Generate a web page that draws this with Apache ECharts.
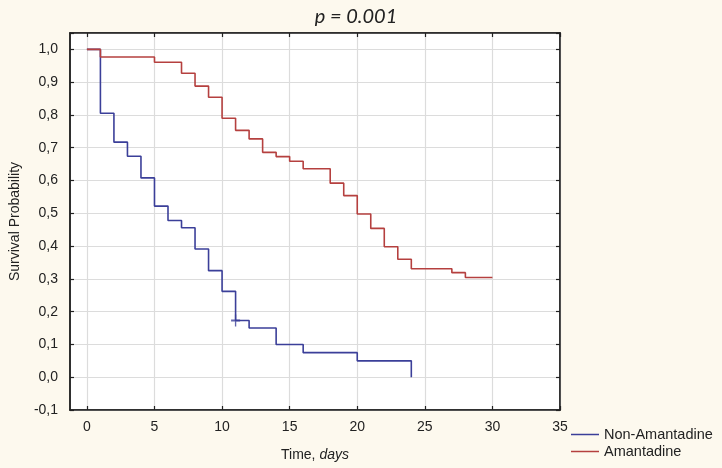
<!DOCTYPE html>
<html><head><meta charset="utf-8">
<script src="https://cdn.jsdelivr.net/npm/echarts@6/dist/echarts.min.js"></script>
<style>html,body{margin:0;padding:0;background:#fdf9ee;}#c{width:722px;height:468px;}</style>
</head><body><div id="c"></div>
<script>
var titleText = 'p = 0.001';
var seriesNames = ['Non-Amantadine', 'Amantadine'];
var xTicks = [0, 5, 10, 15, 20, 25, 30, 35];
var yTicks = [-0.1, 0, 0.1, 0.2, 0.3, 0.4, 0.5, 0.6, 0.7, 0.8, 0.9, 1.0];
var nonAmantadine = [[0,1],[1,0.805],[2,0.717],[3,0.674],[4,0.608],[5,0.522],[6,0.478],[7,0.456],[8,0.391],[9,0.325],[10,0.262],[11,0.173],[12,0.150],[14,0.100],[16,0.075],[20,0.050],[24,0.0]];
var amantadine = [[0,1],[1,0.977],[5,0.961],[7,0.927],[8,0.888],[9,0.854],[10,0.790],[11,0.753],[12,0.727],[13,0.686],[14,0.673],[15,0.659],[16,0.636],[18,0.592],[19,0.554],[20,0.498],[21,0.454],[22,0.398],[23,0.360],[24,0.331],[27,0.319],[28,0.304],[30,0.304]];
var censored = [[11,0.173]];

var chart = echarts.init(document.getElementById('c'));
var fmtY = function(v){ if (Math.abs(v-1.05)<1e-6) return ''; return v.toFixed(1).replace('.', ','); };
var tickStyle = {show:true, inside:true, length:4, lineStyle:{color:'#222', width:1.2}};
var axLine = {show:true, onZero:false, lineStyle:{color:'#222', width:1.5}};
var font = 'Liberation Sans, Arial, sans-serif';
chart.setOption({
  backgroundColor:'#fdf9ee',
  animation:false,
  title:{text:titleText, left:351, textAlign:'center', top:2, textStyle:{fontFamily:'Lato, Open Sans, sans-serif', fontStyle:'italic', fontWeight:'normal', fontSize:20, color:'#222'}},
  legend:{data:seriesNames, orient:'vertical', left:571, top:427, padding:0, icon:'rect', itemWidth:28, itemHeight:1.5, itemGap:2, textStyle:{fontFamily:font, fontSize:14.5, color:'#222', lineHeight:15}},
  grid:{left:67, right:162, top:33, bottom:58, show:true, backgroundColor:'#fff', borderColor:'#222', borderWidth:1.5},
  xAxis:[{
    type:'value', min:-1.25, max:35, position:'bottom',
    name:'{a|Time, }{b|days}', nameLocation:'middle', nameGap:38,
    nameTextStyle:{rich:{a:{fontFamily:font, fontSize:14, color:'#222'}, b:{fontFamily:font, fontSize:14, fontStyle:'italic', color:'#222'}}},
    axisLine:axLine,
    axisTick:Object.assign({customValues:xTicks}, tickStyle),
    axisLabel:{customValues:xTicks, fontFamily:font, fontSize:14, color:'#222', margin:10},
    splitLine:{show:true, customValues:xTicks, lineStyle:{color:'#dcdcdc', width:1.2}}
  },{
    type:'value', min:-1.25, max:35, position:'top',
    axisLine:axLine,
    axisTick:Object.assign({customValues:xTicks}, tickStyle),
    axisLabel:{show:false}, splitLine:{show:false}
  }],
  yAxis:[{
    type:'value', min:-0.1, max:1.05, interval:0.1, position:'left',
    name:'Survival Probability', nameLocation:'middle', nameGap:48, nameRotate:90,
    nameTextStyle:{fontFamily:font, fontSize:14, color:'#222'},
    axisLine:axLine,
    axisTick:tickStyle,
    axisLabel:{formatter:fmtY, fontFamily:font, fontSize:14, color:'#222', margin:12},
    splitLine:{show:true, lineStyle:{color:'#dcdcdc', width:1.2}}
  },{
    type:'value', min:-0.1, max:1.05, interval:0.1, position:'right',
    axisLine:axLine,
    axisTick:tickStyle, axisLabel:{show:false}, splitLine:{show:false}
  }],
  series:[
    {name:seriesNames[0], type:'line', step:'end', data:nonAmantadine, showSymbol:false, symbol:'none', color:'#3b3f99', lineStyle:{color:'#3b3f99', width:1.6}, z:3},
    {name:seriesNames[1], type:'line', step:'end', data:amantadine, showSymbol:false, symbol:'none', color:'#b5403f', lineStyle:{color:'#b5403f', width:1.6}, z:3},
    {name:'censor', type:'scatter', data:censored, symbol:'path://M0,4.25 L4.25,4.25 L4.25,0 L5.75,0 L5.75,4.25 L10,4.25 L10,5.75 L5.75,5.75 L5.75,10 L4.25,10 L4.25,5.75 L0,5.75 Z', symbolSize:[9,12], itemStyle:{color:'#3b3f99'}, z:4}
  ]
});
</script></body></html>
